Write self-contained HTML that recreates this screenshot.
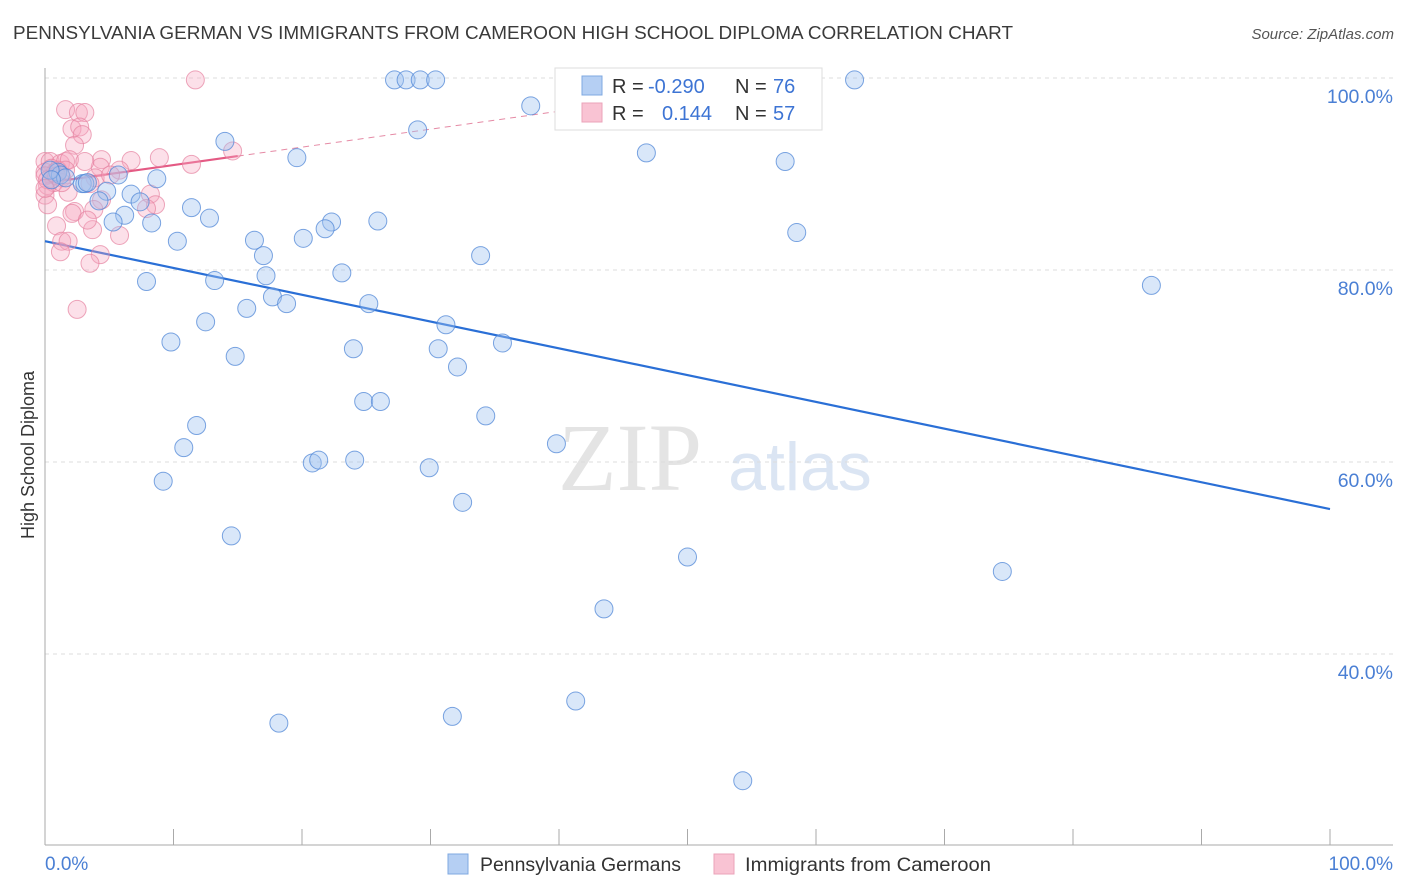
<!DOCTYPE html>
<html><head><meta charset="utf-8"><style>
body{margin:0;background:#fff;font-family:"Liberation Sans",sans-serif;}
#wrap{position:relative;width:1406px;height:892px;overflow:hidden;}
</style></head><body>
<div id="wrap">
<svg id="chart" width="1406" height="892" xmlns="http://www.w3.org/2000/svg">
<text x="13" y="39" font-size="18" fill="#3a3a3a" textLength="1000" lengthAdjust="spacingAndGlyphs" font-family="Liberation Sans, sans-serif">PENNSYLVANIA GERMAN VS IMMIGRANTS FROM CAMEROON HIGH SCHOOL DIPLOMA CORRELATION CHART</text>
<text x="1394" y="39" font-size="15" fill="#555" font-style="italic" text-anchor="end" font-family="Liberation Sans, sans-serif">Source: ZipAtlas.com</text>
<text x="0" y="0" transform="translate(34,455) rotate(-90)" font-size="18" fill="#333" text-anchor="middle" font-family="Liberation Sans, sans-serif">High School Diploma</text>
<text x="630" y="490" font-size="96" fill="#e4e4e4" font-family="Liberation Serif, serif" text-anchor="middle">ZIP</text>
<text x="800" y="490" font-size="68" fill="#dbe5f3" font-family="Liberation Sans, sans-serif" text-anchor="middle">atlas</text>
<g id="grid"></g><g id="axes"></g><g id="trend"></g><g id="pts"></g>
<g>
<rect x="555" y="68" width="267" height="62" fill="#fff" stroke="#ddd"/>
<rect x="582" y="76" width="20" height="19" fill="#b5cff3" stroke="#7fa8e0"/>
<rect x="582" y="103" width="20" height="19" fill="#f9c3d3" stroke="#eba3b9"/>
<text y="93" font-size="20" font-family="Liberation Sans, sans-serif"><tspan x="612" fill="#333">R = </tspan><tspan x="648" fill="#3d74d4">-0.290</tspan><tspan x="735" fill="#333">N = </tspan><tspan x="773" fill="#3d74d4">76</tspan></text>
<text y="120" font-size="20" font-family="Liberation Sans, sans-serif"><tspan x="612" fill="#333">R = </tspan><tspan x="662" fill="#3d74d4">0.144</tspan><tspan x="735" fill="#333">N = </tspan><tspan x="773" fill="#3d74d4">57</tspan></text>
</g>
<text x="45" y="870" font-size="19" fill="#4a7fd4" font-family="Liberation Sans, sans-serif">0.0%</text>
<text x="1393" y="870" font-size="19" fill="#4a7fd4" text-anchor="end" font-family="Liberation Sans, sans-serif">100.0%</text>
<g>
<rect x="448" y="854" width="20" height="20" fill="#b5cff3" stroke="#7fa8e0"/>
<text x="480" y="871" font-size="19" fill="#333" textLength="201" lengthAdjust="spacingAndGlyphs" font-family="Liberation Sans, sans-serif">Pennsylvania Germans</text>
<rect x="714" y="854" width="20" height="20" fill="#f9c3d3" stroke="#eba3b9"/>
<text x="745" y="871" font-size="19" fill="#333" textLength="246" lengthAdjust="spacingAndGlyphs" font-family="Liberation Sans, sans-serif">Immigrants from Cameroon</text>
</g>
</svg></div>
<script>
const yTicks=[100,80,60,40];
const yTickLabels=["100.0%","80.0%","60.0%","40.0%"];
const blueX=[27.2,28.1,29.2,30.4,63.0,37.8,29.0,14.0,46.8,19.6,57.6,5.7,8.7,2.9,1.0,4.8,6.7,4.2,7.4,11.4,6.2,5.3,8.3,12.8,22.3,25.9,21.8,20.1,16.3,10.3,58.5,33.9,17.0,23.1,17.2,7.9,13.2,17.7,18.8,15.7,25.2,86.1,12.5,31.2,9.8,35.6,24.0,30.6,14.8,32.1,24.8,26.1,34.3,11.8,10.8,39.8,20.8,21.3,24.1,29.9,9.2,32.5,14.5,50.0,74.5,43.5,41.3,18.2,31.7,54.3,3.1,1.2,0.4,1.6,3.3,0.5];
const blueY=[99.8,99.8,99.8,99.8,99.8,97.1,94.6,93.4,92.2,91.7,91.3,89.9,89.5,89.0,90.2,88.2,87.9,87.2,87.1,86.5,85.7,85.0,84.9,85.4,85.0,85.1,84.3,83.3,83.1,83.0,83.9,81.5,81.5,79.7,79.4,78.8,78.9,77.2,76.5,76.0,76.5,78.4,74.6,74.3,72.5,72.4,71.8,71.8,71.0,69.9,66.3,66.3,64.8,63.8,61.5,61.9,59.9,60.2,60.2,59.4,58.0,55.8,52.3,50.1,48.6,44.7,35.1,32.8,33.5,26.8,89.0,89.9,90.4,89.6,89.1,89.4];
const pinkX=[11.7,1.6,2.6,3.1,2.1,2.7,2.9,2.3,0.0,0.4,1.2,1.6,1.9,4.4,6.7,8.9,11.4,14.6,4.3,5.8,0.0,0.8,1.3,0.2,0.7,1.8,3.9,3.5,0.0,0.2,2.3,8.2,8.6,4.4,7.9,2.1,3.8,3.7,3.3,5.8,0.9,1.3,1.8,4.3,1.2,3.5,2.5,0.5,1.0,0.0,0.2,0.9,1.3,0.0,5.1,3.1,1.6];
const pinkY=[99.8,96.7,96.4,96.4,94.7,94.9,94.1,93.0,91.3,91.3,91.1,91.3,91.5,91.5,91.4,91.7,91.0,92.4,90.7,90.4,90.2,90.2,89.6,88.8,89.1,88.1,89.6,89.0,87.8,86.8,86.1,87.9,86.8,87.3,86.4,85.9,86.3,84.2,85.2,83.6,84.6,83.0,83.0,81.6,81.9,80.7,75.9,90.6,90.4,89.8,89.4,89.8,89.1,88.5,89.9,91.3,90.4];
const blueTrend=[83.0,55.1];   // y at x=0 and x=100
const pinkTrend=[89.06,0.187]; // intercept, slope
const NS="http://www.w3.org/2000/svg";
const xS=v=>45+v*12.85, yS=v=>78+(100-v)*9.6;
function mk(tag,attrs,parent){const e=document.createElementNS(NS,tag);for(const k in attrs)e.setAttribute(k,attrs[k]);document.getElementById(parent).appendChild(e);return e;}
yTicks.forEach((t,i)=>{
 const l=mk('line',{x1:45,x2:1393,y1:yS(t),y2:yS(t),stroke:'#ddd','stroke-dasharray':'4,4'},'grid');
 
 
 const tx=mk('text',{x:1393,y:yS(t)+25,'font-size':19.5,fill:'#4a7fd4','text-anchor':'end','font-family':'Liberation Sans, sans-serif'},'grid');
 tx.textContent=yTickLabels[i];
 
 
});
const ya=mk('line',{x1:45,x2:45,y1:68,y2:845,stroke:'#aaa'},'axes');


const xa=mk('line',{x1:45,x2:1393,y1:845,y2:845,stroke:'#aaa'},'axes');


for(let i=1;i<=10;i++){const t=mk('line',{x1:xS(i*10),x2:xS(i*10),y1:829,y2:845,stroke:'#aaa'},'axes');
 
 }
const bl=mk('line',{x1:xS(0),y1:yS(blueTrend[0]),x2:xS(100),y2:yS(blueTrend[1]),stroke:'#2a6fd6','stroke-width':2.2},'trend');


const pd=mk('line',{x1:xS(15),y1:yS(pinkTrend[0]+pinkTrend[1]*15),x2:xS(40),y2:yS(pinkTrend[0]+pinkTrend[1]*40),stroke:'#e58aa5','stroke-width':1,'stroke-dasharray':'6,5'},'trend');


const pl=mk('line',{x1:xS(0),y1:yS(pinkTrend[0]),x2:xS(15),y2:yS(pinkTrend[0]+pinkTrend[1]*15),stroke:'#e45a84','stroke-width':2.2},'trend');


pinkX.forEach((x,i)=>{const c=mk('circle',{cx:xS(x),cy:yS(pinkY[i]),r:9,fill:'rgba(245,165,192,0.35)',stroke:'rgba(230,130,160,0.7)','stroke-width':1},'pts');
 
 });
blueX.forEach((x,i)=>{const c=mk('circle',{cx:xS(x),cy:yS(blueY[i]),r:9,fill:'rgba(160,195,240,0.4)',stroke:'rgba(80,135,215,0.75)','stroke-width':1},'pts');
 
 });
</script>
</body></html>
